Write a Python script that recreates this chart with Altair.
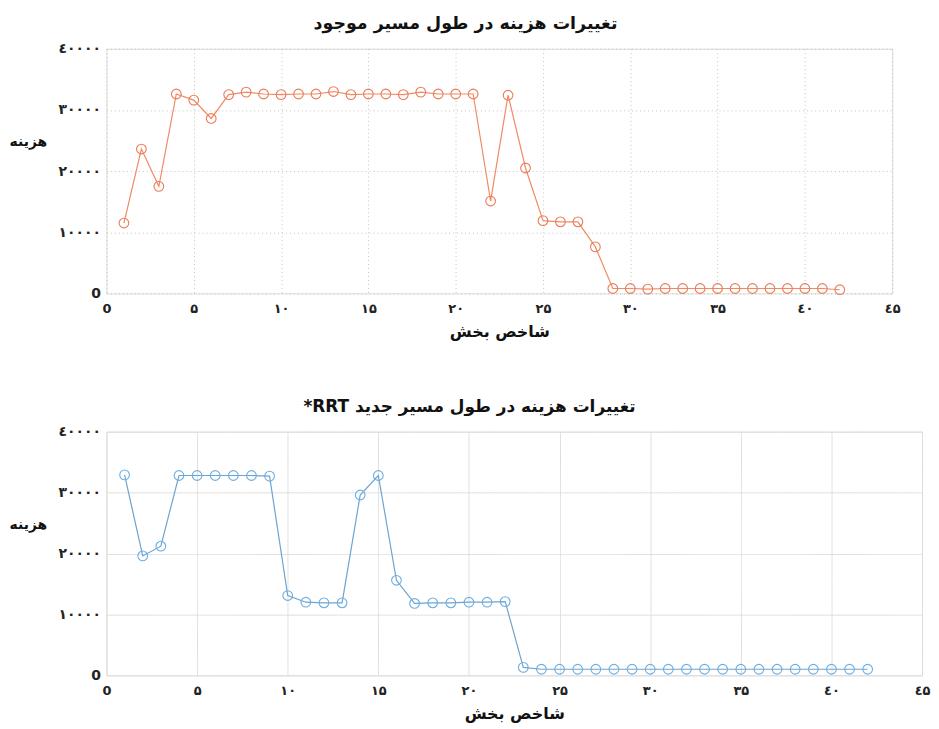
import altair as alt
import pandas as pd

# ---------------- data ----------------
segment_index = list(range(1, 43))

cost_current = [11500, 23600, 17500, 32600, 31600, 28600, 32500, 32900, 32600, 32500,
                32600, 32600, 33000, 32500, 32600, 32600, 32500, 32900, 32600, 32600,
                32600, 15100, 32400, 20500, 11900, 11700, 11700, 7600, 800, 800,
                700, 800, 800, 800, 800, 800, 800, 800, 800, 800,
                800, 600]

cost_rrt = [32900, 19600, 21200, 32800, 32800, 32800, 32800, 32800, 32700, 13100,
            12000, 11900, 11900, 29600, 32800, 15600, 11800, 11900, 11900, 12000,
            12000, 12100, 1300, 1000, 1000, 1000, 1000, 1000, 1000, 1000,
            1000, 1000, 1000, 1000, 1000, 1000, 1000, 1000, 1000, 1000,
            1000, 1000]

x_tick_values = [0, 5, 10, 15, 20, 25, 30, 35, 40, 45]
x_tick_labels = ['0', '۵', '۱۰', '۱۵', '۲۰', '۲۵', '۳۰', '۳۵', '٤۰', '٤۵']
y_tick_values = [0, 10000, 20000, 30000, 40000]
y_tick_labels = ['0', '۱۰۰۰۰', '۲۰۰۰۰', '۳۰۰۰۰', '٤۰۰۰۰']

title_top = 'تغییرات هزینه در طول مسیر موجود'
title_bottom = '*RRT  تغییرات هزینه در طول مسیر جدید'
x_title = 'شاخص بخش'
y_title = 'هزینه'

FONT = 'DejaVu Sans'


def label_expr(vals, labels):
    parts = ' : '.join(f"datum.value == {v} ? '{l}'" for v, l in zip(vals, labels))
    return parts + " : ''"


def panel(values, line_color, point_color, title, width, height, dash, dx, grid_color, title_size):
    df = pd.DataFrame({'x': segment_index, 'y': values})
    x_axis = alt.Axis(values=x_tick_values, labelExpr=label_expr(x_tick_values, x_tick_labels),
                      title=x_title, grid=True, gridDash=dash, gridColor=grid_color,
                      ticks=False, domain=False, labelPadding=9, titlePadding=8,
                      labelFont=FONT, labelFontSize=13, labelFontWeight='bold', labelColor='#222',
                      titleFont=FONT, titleFontSize=16, titleFontWeight='bold', titleColor='#111',
                      labelFlush=False)
    y_axis = alt.Axis(values=y_tick_values, labelExpr=label_expr(y_tick_values, y_tick_labels),
                      title=y_title, grid=True, gridDash=dash, gridColor=grid_color,
                      ticks=False, domain=False, labelPadding=6,
                      labelFont=FONT, labelFontSize=14, labelFontWeight='bold', labelColor='#222',
                      titleFont=FONT, titleFontSize=14, titleFontWeight='bold', titleColor='#111',
                      titleAngle=0, titleAlign='center', titleBaseline='middle',
                      titleX=-79, titleY=height * 0.38, labelFlush=False)
    base = alt.Chart(df).encode(
        x=alt.X('x:Q', scale=alt.Scale(domain=[0, 45], nice=False), axis=x_axis),
        y=alt.Y('y:Q', scale=alt.Scale(domain=[0, 40000], nice=False), axis=y_axis),
    )
    line = base.mark_line(color=line_color, strokeWidth=1.2)
    pts = base.mark_point(shape='circle', filled=False, size=95, color=point_color, strokeWidth=1.1, opacity=1)
    return alt.layer(line, pts).properties(
        width=width, height=height,
        title=alt.TitleParams(title, font=FONT, fontSize=title_size, fontWeight='bold', color='#111',
                              anchor='middle', dx=dx, offset=9),
    )


top = panel(cost_current, '#EF8A66', '#EC7A55', title_top, 790, 246, [1, 3], -34, '#c4c4c4', 17.5)
bottom = panel(cost_rrt, '#6FA3CF', '#6AAEE2', title_bottom, 820, 245, [1, 0], -45, '#dedede', 17)

chart = alt.vconcat(top, bottom, spacing=57).properties(
    padding={'left': 0, 'top': 5, 'right': 0, 'bottom': 0}
).configure_view(stroke='#9a9a9a', strokeWidth=1.5).configure(background='white')

chart.save('out.html', embed_options={'renderer': 'svg', 'actions': False})
